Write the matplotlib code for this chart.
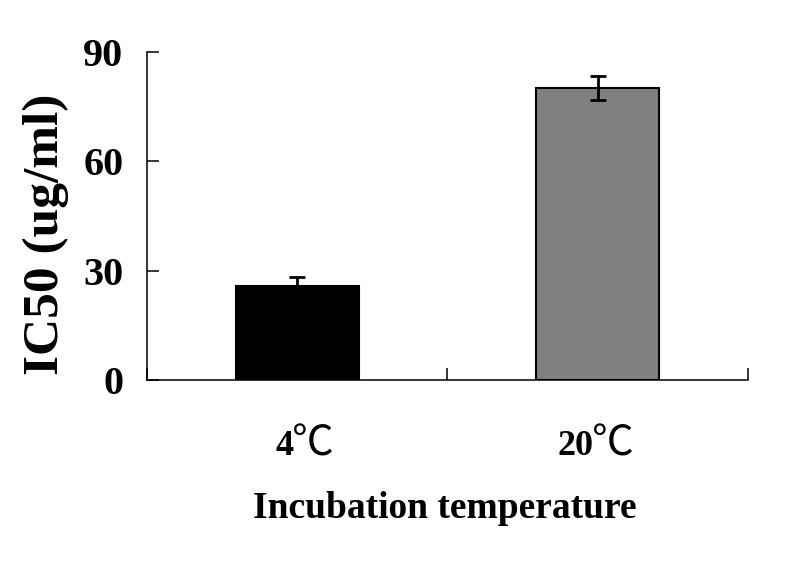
import matplotlib.pyplot as plt

categories = ["4", "20"]
unit = "℃"
ic50 = [25.7, 80.0]
ic50_err = [2.4, 3.4]
bar_colors = ["#000000", "#808080"]
y_ticks = [0, 30, 60, 90]

plt.rcParams["font.family"] = ["Liberation Serif", "Noto Sans CJK SC", "DejaVu Sans"]

fig = plt.figure(figsize=(7.93, 5.66), dpi=100)
ax = fig.add_axes([0.1854, 0.3286, 0.7578, 0.5804])

x = list(range(len(categories)))
ax.bar(x, ic50, width=0.41, color=bar_colors, edgecolor="black", linewidth=1.5,
       yerr=ic50_err, error_kw=dict(ecolor="black", elinewidth=2, capsize=6, capthick=2),
       zorder=2)

ax.set_xlim(-0.5, len(categories) - 0.5)
ax.set_ylim(0, 90)
ax.set_yticks(y_ticks)
ax.set_yticklabels([str(v) for v in y_ticks], fontsize=29, fontweight="bold")
ax.tick_params(axis="y", direction="in", length=8.6, width=1.1, pad=17)

# ticks sit on the category boundaries, labels under the bars
ax.set_xticks([i - 0.5 for i in range(len(categories) + 1)])
ax.set_xticklabels([])
ax.tick_params(axis="x", direction="in", length=8.6, width=1.1)
for xi, c in zip(x, categories):
    ax.annotate(c, xy=(xi, 0), xycoords=("data", "axes fraction"),
                xytext=(-3, -54), textcoords="offset points",
                ha="right", va="baseline", fontsize=26, fontweight="bold")
    ax.annotate(unit, xy=(xi, 0), xycoords=("data", "axes fraction"),
                xytext=(-4, -54), textcoords="offset points",
                ha="left", va="baseline", fontsize=30,
                family=["Noto Sans CJK SC", "DejaVu Sans"])

for side in ["top", "right"]:
    ax.spines[side].set_visible(False)
for side in ["left", "bottom"]:
    ax.spines[side].set_linewidth(1.1)

ax.set_ylabel("IC50 (ug/ml)", fontsize=37, fontweight="bold", va="center")
ax.yaxis.set_label_coords(-0.168, 0.444)
ax.set_xlabel("Incubation temperature", fontsize=27, fontweight="bold", va="center")
ax.xaxis.set_label_coords(0.496, -0.39)

fig.savefig("out.png", dpi=100)
